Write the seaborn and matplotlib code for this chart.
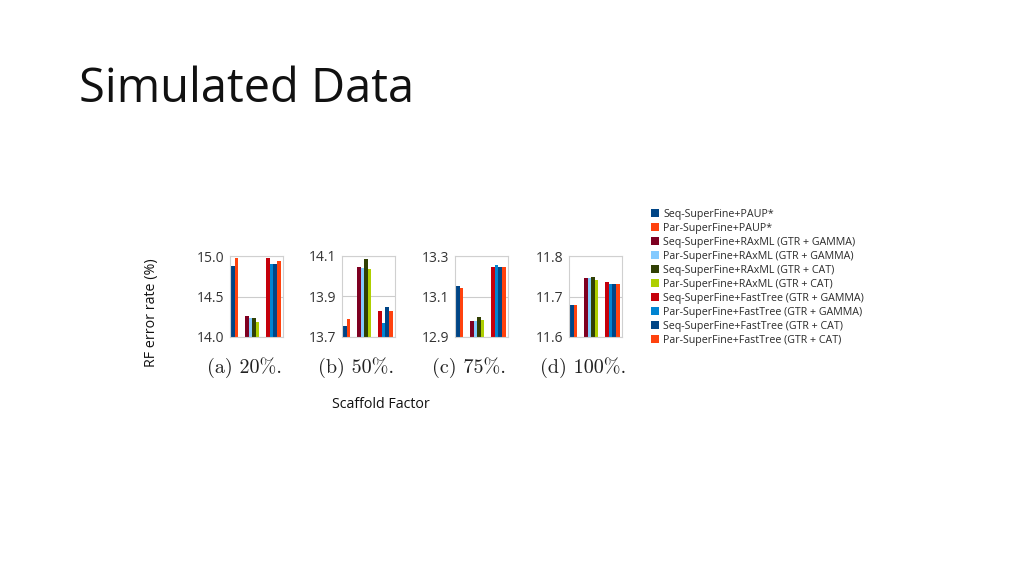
import pandas as pd
import seaborn as sns
import matplotlib.pyplot as plt
from matplotlib.patches import Patch

# ---------- data ----------
series = [
    "Seq-SuperFine+PAUP*",
    "Par-SuperFine+PAUP*",
    "Seq-SuperFine+RAxML (GTR + GAMMA)",
    "Par-SuperFine+RAxML (GTR + GAMMA)",
    "Seq-SuperFine+RAxML (GTR + CAT)",
    "Par-SuperFine+RAxML (GTR + CAT)",
    "Seq-SuperFine+FastTree (GTR + GAMMA)",
    "Par-SuperFine+FastTree (GTR + GAMMA)",
    "Seq-SuperFine+FastTree (GTR + CAT)",
    "Par-SuperFine+FastTree (GTR + CAT)",
]
colors = ["#004586", "#ff420e", "#7e0021", "#83caff", "#314004",
          "#aecf00", "#c5000b", "#0084d1", "#004586", "#ff420e"]

panels = ["(a) 20%.", "(b) 50%.", "(c) 75%.", "(d) 100%."]
vals_20 = [14.88, 14.97, 14.26, 14.24, 14.23, 14.19, 14.98, 14.90, 14.90, 14.94]
vals_50 = [13.754, 13.79, 14.048, 14.043, 14.084, 14.035, 13.83, 13.77, 13.85, 13.826]
vals_75 = [13.151, 13.143, 12.977, 12.977, 12.998, 12.983, 13.248, 13.256, 13.244, 13.244]
vals_100 = [11.678, 11.680, 11.745, 11.745, 11.747, 11.740, 11.735, 11.731, 11.732, 11.730]
ylims = [(14.0, 15.0), (13.7, 14.1), (12.9, 13.3), (11.6, 11.8)]
yticks = [[14.0, 14.5, 15.0], [13.7, 13.9, 14.1], [12.9, 13.1, 13.3], [11.6, 11.7, 11.8]]

# bar slots: PAUP pair, gap, RAxML four, gap, FastTree four
order = series[:2] + [" ", "  "] + series[2:6] + ["   ", "    "] + series[6:]

sns.set_theme(style="white")
plt.rcParams['font.family'] = ['Open Sans', 'DejaVu Sans']

fig = plt.figure(figsize=(10.24, 5.75), dpi=100)
W, H = 1024, 575

fig.text(79 / W, 1 - 102 / H, "Simulated Data", fontsize=33.8, color="#111111",
         ha="left", va="baseline")

lefts = [230, 342, 455, 569]
palette = dict(zip(series, colors))
for i, vals in enumerate([vals_20, vals_50, vals_75, vals_100]):
    x0 = lefts[i]
    ax = fig.add_axes([x0 / W, 1 - 337 / H, 53 / W, 81 / H])
    df = pd.DataFrame({"series": series, "value": vals})
    sns.barplot(data=df, x="series", y="value", hue="series", order=order,
                palette=palette, width=1.0, dodge=False, legend=False, ax=ax,
                linewidth=0, saturation=1)
    ax.set_ylim(*ylims[i])
    ax.set_yticks(yticks[i])
    ax.set_yticklabels([f"{t:.1f}" for t in yticks[i]], fontsize=10, color="#333333")
    ax.set_xlim(-0.8, 14.2)
    ax.set_xticks([])
    ax.set_xlabel("")
    ax.set_ylabel("")
    ax.tick_params(axis="y", length=0, pad=4)
    ax.yaxis.grid(True, color="#cccccc", linewidth=0.8)
    ax.set_axisbelow(True)
    for sp in ax.spines.values():
        sp.set_color("#d0d0d0")
        sp.set_linewidth(0.8)
    fig.text((x0 + 14) / W, 1 - 368 / H, panels[i], fontsize=14.5,
             family=["cmr10", "DejaVu Serif"], ha="center", va="center", color="#222222")

fig.text(152 / W, 1 - 313 / H, "RF error rate (%)", rotation=90, fontsize=10.3,
         ha="center", va="center", color="#111111")
fig.text(381 / W, 1 - 405 / H, "Scaffold Factor", fontsize=10.3,
         ha="center", va="center", color="#111111")

handles = [Patch(facecolor=c, edgecolor="none") for c in colors]
fig.legend(handles, series, loc="upper left", bbox_to_anchor=(651 / W, 1 - 209 / H),
           frameon=False, fontsize=7.7, handlelength=0.75, handleheight=0.75,
           handletextpad=0.4, labelspacing=0.28, borderaxespad=0, borderpad=0,
           labelcolor="#2a2a2a")

fig.savefig("out.png", dpi=100, facecolor="white")
